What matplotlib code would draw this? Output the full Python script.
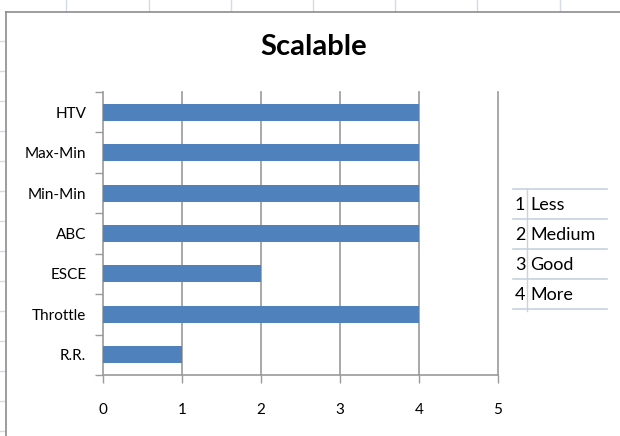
import matplotlib
matplotlib.use("Agg")
import matplotlib.pyplot as plt
from matplotlib.lines import Line2D

# Scalability score per scheduling algorithm (1 = Less ... 4 = More)
categories = ["R.R.", "Throttle", "ESCE", "ABC", "Min-Min", "Max-Min", "HTV"]
scores = [1, 4, 2, 4, 4, 4, 4]
x_ticks = [0, 1, 2, 3, 4, 5]
scale_numbers = ["1", "2", "3", "4"]
scale_names = ["Less", "Medium", "Good", "More"]
title = "Scalable"

W, H = 620, 436
plt.rcParams["font.family"] = ["Lato", "DejaVu Sans"]

fig = plt.figure(figsize=(W / 100, H / 100), dpi=100)
fig.patch.set_facecolor("white")


def fx(px):
    return px / W


def fy(py):
    return 1 - py / H


def hline(y, x0, x1, color, lw=1.0):
    fig.add_artist(Line2D([fx(x0), fx(x1)], [fy(y), fy(y)], color=color, lw=lw))


def vline(x, y0, y1, color, lw=1.0):
    fig.add_artist(Line2D([fx(x), fx(x)], [fy(y0), fy(y1)], color=color, lw=lw))


# worksheet cell separators peeking around the chart frame
sheet = "#d4dbe6"
for x in [66, 149, 231, 313, 395, 477, 560]:
    vline(x, 0, 11, sheet)
for y in [41, 71, 101, 131, 161, 191, 221, 251, 281, 311, 341, 371, 401, 431]:
    hline(y, 0, 5, sheet)

# chart frame
hline(12, 6, W, "#8c8c8c", 1.2)
vline(6, 12, H, "#8c8c8c", 1.2)

# plot area
left, right, top, bottom = 103, 498, 92, 375
ax = fig.add_axes([fx(left), fy(bottom), fx(right - left), (bottom - top) / H])
ax.set_facecolor("none")

ypos = list(range(len(categories)))
ax.barh(ypos, scores, height=0.42, color="#4f81bd", zorder=3)

ax.set_xlim(x_ticks[0], x_ticks[-1])
ax.set_ylim(-0.5, len(categories) - 0.5)

grid_c = "#9a9a9a"
ax.set_xticks(x_ticks)
ax.set_xticklabels([str(v) for v in x_ticks], fontsize=11)
for v in x_ticks[1:]:
    ax.axvline(v, color=grid_c, lw=1.2, zorder=1, clip_on=False)

ax.set_yticks(ypos)
ax.set_yticklabels(categories, fontsize=11)
ax.set_yticks([i - 0.5 for i in range(len(categories) + 1)], minor=True)
ax.tick_params(axis="y", which="major", length=0, pad=12)
ax.tick_params(axis="y", which="minor", length=6, width=1.0, color=grid_c, direction="out")
ax.tick_params(axis="x", which="major", length=6, width=1.0, color=grid_c, pad=14)

for side in ["top", "right"]:
    ax.spines[side].set_visible(False)
for side in ["left", "bottom"]:
    ax.spines[side].set_color(grid_c)
    ax.spines[side].set_linewidth(1.2)

fig.text(fx(314), fy(47), title, ha="center", va="center",
         fontsize=21, fontweight="bold")

# scale legend table
tbl_c = "#c7d1e1"
row_lines = [189, 219, 249, 279, 309]
for y in row_lines:
    hline(y, 513, 607, tbl_c, 1.2)
vline(527, 189, 311, tbl_c, 1.0)
for i, (num, name) in enumerate(zip(scale_numbers, scale_names)):
    yc = (row_lines[i] + row_lines[i + 1]) / 2 + 1
    fig.text(fx(520), fy(yc), num, ha="center", va="center", fontsize=13)
    fig.text(fx(530), fy(yc), name, ha="left", va="center", fontsize=13)

fig.savefig("out.png", dpi=100)
